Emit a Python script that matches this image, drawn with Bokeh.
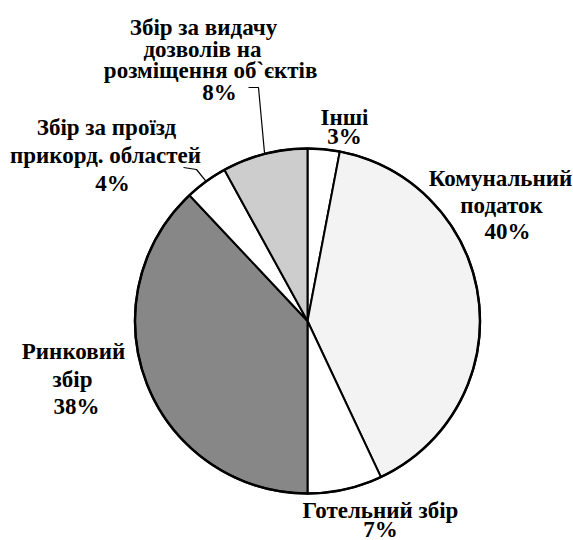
import math
from bokeh.plotting import figure
from bokeh.models import Range1d, ColumnDataSource
from bokeh.core.properties import value
from bokeh.embed import file_html
from bokeh.resources import INLINE

# ---- data (clockwise from 12 o'clock) ----
categories = ["Інші", "Комунальний податок", "Готельний збір", "Ринковий збір",
              "Збір за проїзд прикорд. областей",
              "Збір за видачу дозволів на розміщення об`єктів"]
shares = [3, 40, 7, 38, 4, 8]
label_lines = [
    ["Інші", "3%"],
    ["Комунальний", "податок", "40%"],
    ["Готельний збір", "7%"],
    ["Ринковий", "збір", "38%"],
    ["Збір за проїзд", "прикорд. областей", "4%"],
    ["Збір за видачу", "дозволів на", "розміщення  об`єктів", "8%"],
]

# ---- styles / layout (reference pixel coordinates) ----
fills = ["#ffffff", "#f3f3f3", "#ffffff", "#878787", "#ffffff", "#cdcdcd"]
W, H = 573, 540
CX, CY, R = 307, 320.5, 172.5
# (center x, first baseline y, line spacing) per label block
label_layout = [
    (344, 117, 19),
    (500, 178, 26.5),
    (380, 510, 18.5),
    (74, 351, 27.5),
    (106, 127, 28),
    (206, 27, 21.7),
]
line_offsets_x = {5: [-3, -4, 7, 13], 4: [0, -1, 6], 3: [-1, -2, 2], 1: [0, 1, 7]}
leaders = {5: [(248, 87), (258, 87)], 4: [(183, 167), (196, 169)]}

def Y(y):
    return H - y

p = figure(width=W, height=H, output_backend="svg",
           toolbar_location=None, x_range=Range1d(0, W),
           y_range=Range1d(0, H), min_border=0)
p.axis.visible = False
p.grid.visible = False
p.outline_line_color = None
p.background_fill_color = "white"

total = float(sum(shares))
starts, ends, mids = [], [], []
c = 0.0
for s in shares:
    a0 = math.pi / 2 - 2 * math.pi * c / total
    c += s
    a1 = math.pi / 2 - 2 * math.pi * c / total
    starts.append(a0)
    ends.append(a1)
    mids.append((a0 + a1) / 2)

src = ColumnDataSource(dict(x=[CX] * len(shares), y=[Y(CY)] * len(shares),
                            start=starts, end=ends, fill=fills, name=categories))
p.wedge(x="x", y="y", radius=R, start_angle="start", end_angle="end",
        direction="clock", fill_color="fill", line_color="black",
        line_width=2, source=src)
p.circle(x=[CX], y=[Y(CY)], radius=R, fill_color=None, line_color="black",
         line_width=2.5)

# leader lines
for i, pts in leaders.items():
    ex = CX + R * math.cos(mids[i])
    ey = CY - R * math.sin(mids[i])
    xs = [q[0] for q in pts] + [ex]
    ys = [Y(q[1]) for q in pts] + [Y(ey)]
    p.line(xs, ys, line_color="black", line_width=1.2)

# labels
tx, ty, tt = [], [], []
for i, lines in enumerate(label_lines):
    cx, by, sp = label_layout[i]
    offs = line_offsets_x.get(i, [0] * len(lines))
    for k, t in enumerate(lines):
        tx.append(cx + offs[k])
        ty.append(Y(by + k * sp))
        tt.append(t)
p.text(x=tx, y=ty, text=tt, text_font=value("Liberation Serif"),
       text_font_style="bold", text_font_size="23px", text_align="center",
       text_baseline="alphabetic", text_color="black")

open("out.html", "w").write(file_html(p, INLINE))
